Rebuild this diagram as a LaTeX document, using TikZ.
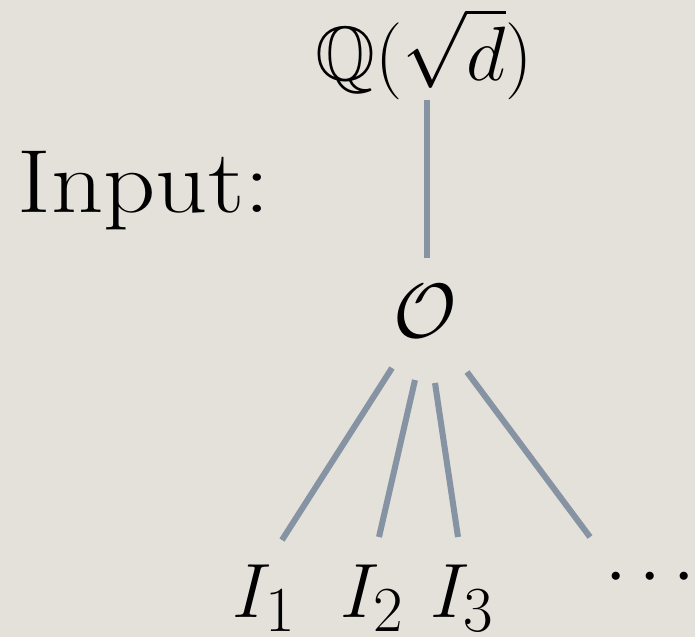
\documentclass[tikz,border=0pt]{standalone}
\usepackage{amssymb}
\definecolor{bgc}{RGB}{228,225,219}
\definecolor{edgec}{RGB}{134,147,163}
\tikzset{
  edge/.style={draw=edgec, line width=1.95pt},
  mathlbl/.style={inner sep=0pt, font=\Huge},
}
\begin{document}
\begin{tikzpicture}[x=0.3231pt, y=-0.3231pt]
\fill[bgc] (0,0) rectangle (695,637);
\useasboundingbox (0,0) rectangle (695,637);
\node[inner sep=0pt, anchor=base west, font=\fontsize{29}{31}\selectfont] (input) at (17,212) {\scalebox{1.14}[1]{Input:}};
\node[mathlbl, anchor=base] (Q) at (424,80) {$\mathbb{Q}(\sqrt{d})$};
\node[mathlbl, anchor=base] (O) at (425,337) {$\mathcal{O}$};
\node[mathlbl, anchor=base west] (I1) at (232,617) {$I_1$};
\node[mathlbl, anchor=base west] (I2) at (340,617) {$I_2$};
\node[mathlbl, anchor=base west] (I3) at (430,617) {$I_3$};
\node[mathlbl, anchor=center] (dots) at (650,578) {$\cdots$};
\coordinate (qb) at (427,100);
\coordinate (ot) at (427,258);
\coordinate (o1) at (392,368);
\coordinate (o2) at (415,380);
\coordinate (o3) at (435,383);
\coordinate (o4) at (467,372);
\coordinate (i1) at (282,540);
\coordinate (i2) at (379,537);
\coordinate (i3) at (458,537);
\coordinate (i4) at (590,537);
\draw[edge] (qb) -- (ot);
\draw[edge] (o1) -- (i1);
\draw[edge] (o2) -- (i2);
\draw[edge] (o3) -- (i3);
\draw[edge] (o4) -- (i4);
\end{tikzpicture}
\end{document}
